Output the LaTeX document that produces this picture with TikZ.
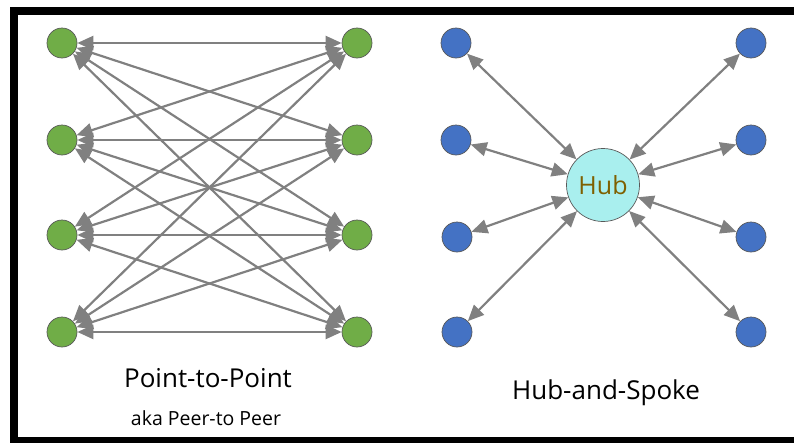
\documentclass[tikz,border=0pt]{standalone}
\usepackage{fontspec}
\setmainfont{Open Sans}
\usetikzlibrary{arrows.meta}
\definecolor{peergreen}{HTML}{70AD47}
\definecolor{spokeblue}{HTML}{4472C4}
\definecolor{hubcyan}{HTML}{A9EFEE}
\definecolor{hubtext}{HTML}{7F6000}
\definecolor{linkgray}{HTML}{808080}
\begin{document}
\begin{tikzpicture}[x=1pt,y=-1pt,
    peer/.style={circle,draw=black!65,line width=0.7pt,fill=peergreen,minimum size=30pt,inner sep=0pt},
    spoke/.style={peer,fill=spokeblue},
    link/.style={<->,>={Triangle[length=16pt,width=14pt]},draw=linkgray,line width=2.2pt}]
            \useasboundingbox (0,0) rectangle (794,442);
            \draw[line width=8pt] (14,11) -- (800,11);
            \draw[line width=8pt] (14,7) -- (14,441) -- (800,441);

            % point-to-point
            \node[peer] (l1) at (62,43) {};
            \node[peer] (l2) at (62,140) {};
            \node[peer] (l3) at (62,235) {};
            \node[peer] (l4) at (62,332) {};
            \node[peer] (r1) at (357,43) {};
            \node[peer] (r2) at (357,140) {};
            \node[peer] (r3) at (357,235) {};
            \node[peer] (r4) at (357,332) {};

            \draw[link] (l1) -- (r1);
            \draw[link] (l1) -- (r2);
            \draw[link] (l1) -- (r3);
            \draw[link] (l1) -- (r4);
            \draw[link] (l2) -- (r1);
            \draw[link] (l2) -- (r2);
            \draw[link] (l2) -- (r3);
            \draw[link] (l2) -- (r4);
            \draw[link] (l3) -- (r1);
            \draw[link] (l3) -- (r2);
            \draw[link] (l3) -- (r3);
            \draw[link] (l3) -- (r4);
            \draw[link] (l4) -- (r1);
            \draw[link] (l4) -- (r2);
            \draw[link] (l4) -- (r3);
            \draw[link] (l4) -- (r4);

            \node[font=\fontsize{26}{30}\selectfont] (ptp) at (208,378) {Point-to-Point};
            \node[font=\fontsize{19.5}{22}\selectfont] (aka) at (206,418) {aka Peer-to Peer};

            % hub-and-spoke
            \node[circle,draw=black!65,line width=0.7pt,fill=hubcyan,minimum size=73pt,inner sep=0pt,
                  text=hubtext,font=\fontsize{25}{28}\selectfont] (hub) at (603,185) {Hub};
            \node[spoke] (a1) at (456,43) {};
            \node[spoke] (a2) at (456,140) {};
            \node[spoke] (a3) at (457,237) {};
            \node[spoke] (a4) at (457,332) {};
            \node[spoke] (b1) at (751,43) {};
            \node[spoke] (b2) at (751,140) {};
            \node[spoke] (b3) at (751,237) {};
            \node[spoke] (b4) at (751,332) {};

            \draw[link] (hub) -- (a1);
            \draw[link] (hub) -- (a2);
            \draw[link] (hub) -- (a3);
            \draw[link] (hub) -- (a4);
            \draw[link] (hub) -- (b1);
            \draw[link] (hub) -- (b2);
            \draw[link] (hub) -- (b3);
            \draw[link] (hub) -- (b4);

            \node[font=\fontsize{26}{30}\selectfont] (hs) at (606,393) {Hub-and-Spoke};
\end{tikzpicture}
\end{document}
